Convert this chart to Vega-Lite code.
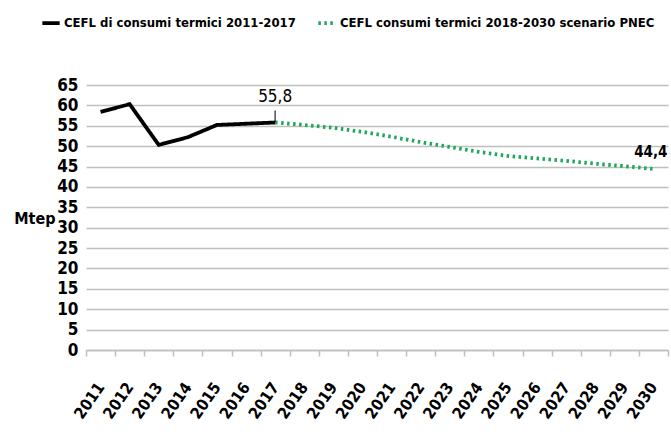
{
  "$schema": "https://vega.github.io/schema/vega-lite/v6.json",
  "width": 582,
  "height": 265,
  "autosize": {"type": "none"},
  "padding": {"left": 86, "top": 85, "right": 3, "bottom": 85},
  "background": "white",
  "config": {
    "font": "DejaVu Sans Condensed",
    "view": {"stroke": null}
  },
  "data": {
    "values": [
      {"year": "2011", "value": 58.4, "series": "CEFL di consumi termici 2011-2017"},
      {"year": "2012", "value": 60.3, "series": "CEFL di consumi termici 2011-2017"},
      {"year": "2013", "value": 50.3, "series": "CEFL di consumi termici 2011-2017"},
      {"year": "2014", "value": 52.2, "series": "CEFL di consumi termici 2011-2017"},
      {"year": "2015", "value": 55.2, "series": "CEFL di consumi termici 2011-2017"},
      {"year": "2016", "value": 55.5, "series": "CEFL di consumi termici 2011-2017"},
      {"year": "2017", "value": 55.8, "series": "CEFL di consumi termici 2011-2017", "label": "55,8"},
      {"year": "2017", "value": 55.8, "series": "CEFL consumi termici 2018-2030 scenario PNEC"},
      {"year": "2018", "value": 55.2, "series": "CEFL consumi termici 2018-2030 scenario PNEC"},
      {"year": "2019", "value": 54.5, "series": "CEFL consumi termici 2018-2030 scenario PNEC"},
      {"year": "2020", "value": 53.5, "series": "CEFL consumi termici 2018-2030 scenario PNEC"},
      {"year": "2021", "value": 52.3, "series": "CEFL consumi termici 2018-2030 scenario PNEC"},
      {"year": "2022", "value": 51.0, "series": "CEFL consumi termici 2018-2030 scenario PNEC"},
      {"year": "2023", "value": 49.8, "series": "CEFL consumi termici 2018-2030 scenario PNEC"},
      {"year": "2024", "value": 48.6, "series": "CEFL consumi termici 2018-2030 scenario PNEC"},
      {"year": "2025", "value": 47.6, "series": "CEFL consumi termici 2018-2030 scenario PNEC"},
      {"year": "2026", "value": 47.0, "series": "CEFL consumi termici 2018-2030 scenario PNEC"},
      {"year": "2027", "value": 46.4, "series": "CEFL consumi termici 2018-2030 scenario PNEC"},
      {"year": "2028", "value": 45.7, "series": "CEFL consumi termici 2018-2030 scenario PNEC"},
      {"year": "2029", "value": 45.1, "series": "CEFL consumi termici 2018-2030 scenario PNEC"},
      {"year": "2030", "value": 44.4, "series": "CEFL consumi termici 2018-2030 scenario PNEC", "label": "44,4"}
    ]
  },
  "encoding": {
    "x": {
      "field": "year",
      "type": "ordinal",
      "scale": {"paddingInner": 0, "paddingOuter": 0},
      "axis": {
        "title": null,
        "tickBand": "extent",
        "domainColor": "#bfbfbf",
        "domainWidth": 1.5,
        "tickColor": "#bfbfbf",
        "tickWidth": 1.5,
        "tickSize": 6,
        "labelAngle": -55,
        "labelAlign": "right",
        "labelBaseline": "middle",
        "labelFont": "DejaVu Sans Condensed",
        "labelFontWeight": "bold",
        "labelFontSize": 16,
        "labelColor": "#000",
        "labelPadding": 28,
        "labelOverlap": false,
        "grid": false
      }
    },
    "y": {
      "field": "value",
      "type": "quantitative",
      "scale": {"domain": [0, 65], "nice": false},
      "axis": {
        "values": [0, 5, 10, 15, 20, 25, 30, 35, 40, 45, 50, 55, 60, 65],
        "title": "Mtep",
        "titleAngle": 0,
        "titleAlign": "right",
        "titleBaseline": "middle",
        "titleX": -31,
        "titleY": 133,
        "titleFont": "DejaVu Sans Condensed",
        "titleFontWeight": "bold",
        "titleFontSize": 16,
        "titleColor": "#000",
        "domain": false,
        "ticks": false,
        "labelPadding": 8,
        "labelFont": "DejaVu Sans Condensed",
        "labelFontWeight": "bold",
        "labelFontSize": 17,
        "labelColor": "#000",
        "gridColor": "#bfbfbf",
        "gridWidth": 1.5
      }
    }
  },
  "layer": [
    {
      "mark": {"type": "line", "strokeWidth": 3.8},
      "encoding": {
        "color": {
          "field": "series",
          "type": "nominal",
          "sort": null,
          "scale": {
            "domain": ["CEFL di consumi termici 2011-2017", "CEFL consumi termici 2018-2030 scenario PNEC"],
            "range": ["#000000", "#1fa85a"]
          },
          "legend": {
            "title": null,
            "orient": "none",
            "legendX": -46,
            "legendY": -73,
            "direction": "horizontal",
            "symbolType": "stroke",
            "symbolSize": 300,
            "symbolStrokeWidth": 3.8,
            "labelFont": "DejaVu Sans Condensed",
            "labelFontWeight": "bold",
            "labelFontSize": 13,
            "labelColor": "#000",
            "labelLimit": 400,
            "columnPadding": 14,
            "labelOffset": 2
          }
        },
        "strokeDash": {
          "field": "series",
          "type": "nominal",
          "sort": null,
          "scale": {
            "domain": ["CEFL di consumi termici 2011-2017", "CEFL consumi termici 2018-2030 scenario PNEC"],
            "range": [[1, 0], [2.5, 3.5]]
          },
          "legend": null
        }
      }
    },
    {
      "transform": [{"filter": "datum.label == '55,8'"}],
      "mark": {"type": "tick", "orient": "vertical", "size": 12, "yOffset": -6, "color": "#000", "thickness": 1.5},
      "encoding": {}
    },
    {
      "transform": [{"filter": "datum.label == '55,8'"}],
      "mark": {"type": "text", "dy": -26, "fontSize": 17, "font": "DejaVu Sans Condensed", "color": "#000"},
      "encoding": {"text": {"field": "label"}}
    },
    {
      "transform": [{"filter": "datum.label == '44,4'"}],
      "mark": {"type": "text", "dy": -17, "dx": 14, "align": "right", "fontSize": 15, "fontWeight": "bold", "font": "DejaVu Sans Condensed", "color": "#000"},
      "encoding": {"text": {"field": "label"}}
    }
  ]
}
